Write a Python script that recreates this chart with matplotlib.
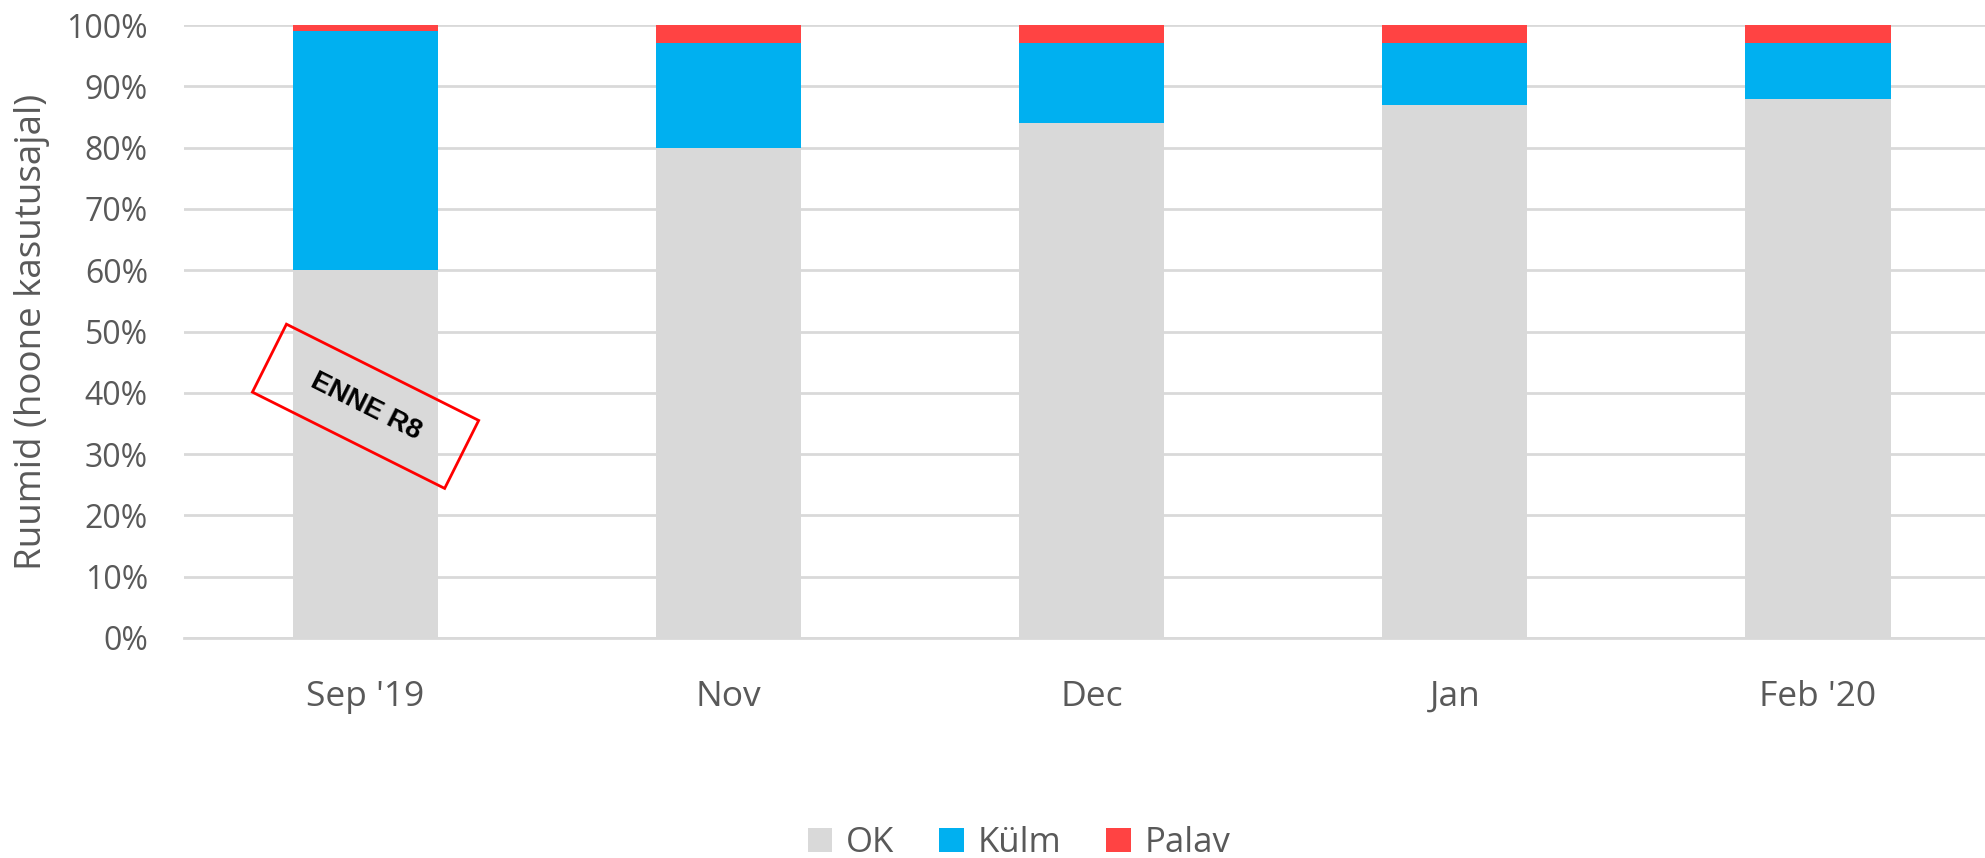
import matplotlib
matplotlib.use("Agg")
import matplotlib.pyplot as plt
import matplotlib.transforms as mtransforms
from matplotlib.patches import Rectangle
import numpy as np

categories = ["Sep '19", "Nov", "Dec", "Jan", "Feb '20"]
ok = [60, 80, 84, 87, 88]
kulm = [39, 17, 13, 10, 9]
palav = [1, 3, 3, 3, 3]
series_names = ["OK", "Külm", "Palav"]
colors = ["#d9d9d9", "#00b0f0", "#ff4343"]
yticks = [0, 10, 20, 30, 40, 50, 60, 70, 80, 90, 100]
annot_text = "ENNE R8"
annot_pos = (0, 37.8)

plt.rcParams['font.family'] = ['Open Sans', 'DejaVu Sans']
txt = "#595959"

fig = plt.figure(figsize=(19.85, 8.58), dpi=100)
ax = fig.add_axes([184/1985, 1-638/858, (1985-184)/1985, (638-25)/858])

x = np.arange(len(categories))
w = 0.40
b1 = ax.bar(x, ok, w, color=colors[0], label=series_names[0], zorder=2)
b2 = ax.bar(x, kulm, w, bottom=ok, color=colors[1], label=series_names[1], zorder=2)
bottom2 = [a + b for a, b in zip(ok, kulm)]
b3 = ax.bar(x, palav, w, bottom=bottom2, color=colors[2], label=series_names[2], zorder=2)

ax.set_xlim(-0.5, 4.46)
ax.set_ylim(0, 100)
ax.set_yticks(yticks)
ax.set_yticklabels([f"{v}%" for v in yticks])
ax.set_xticks(x)
ax.set_xticklabels(categories)
ax.yaxis.grid(True, color="#d9d9d9", linewidth=2, zorder=0)
ax.set_axisbelow(True)
for s in ["top", "right", "left"]:
    ax.spines[s].set_visible(False)
ax.spines["bottom"].set_color("#d9d9d9")
ax.spines["bottom"].set_linewidth(2)
ax.tick_params(axis="y", length=0, pad=26, labelsize=23, labelcolor=txt)
ax.tick_params(axis="x", length=0, pad=30, labelsize=25.5, labelcolor=txt)
ax.set_ylabel("Ruumid (hoone kasutusajal)", fontsize=26.5, color=txt, va="center")
ax.yaxis.set_label_coords(-0.0844, 0.5)

# annotation box
trans = (mtransforms.Affine2D().rotate_deg(-26.6)
         + mtransforms.ScaledTranslation(annot_pos[0], annot_pos[1], ax.transData))
rect = Rectangle((-107.5, -38), 215, 76, fill=False, edgecolor="#ff0000",
                 linewidth=2, transform=trans, zorder=5)
ax.add_patch(rect)
ax.text(annot_pos[0], annot_pos[1], annot_text, rotation=-26.6, ha="center", va="center",
        rotation_mode="anchor", fontsize=20, fontweight="bold",
        family=["Liberation Sans", "DejaVu Sans"], color="black", zorder=6)

leg = fig.legend(handles=[b1, b2, b3], labels=series_names, loc="center",
                 bbox_to_anchor=(1019/1985, 1-843/858), ncol=3, frameon=False,
                 fontsize=25, handlelength=0.7, handleheight=0.7,
                 columnspacing=1.3, handletextpad=0.4)
for t in leg.get_texts():
    t.set_color(txt)

fig.savefig("out.png", dpi=100)
